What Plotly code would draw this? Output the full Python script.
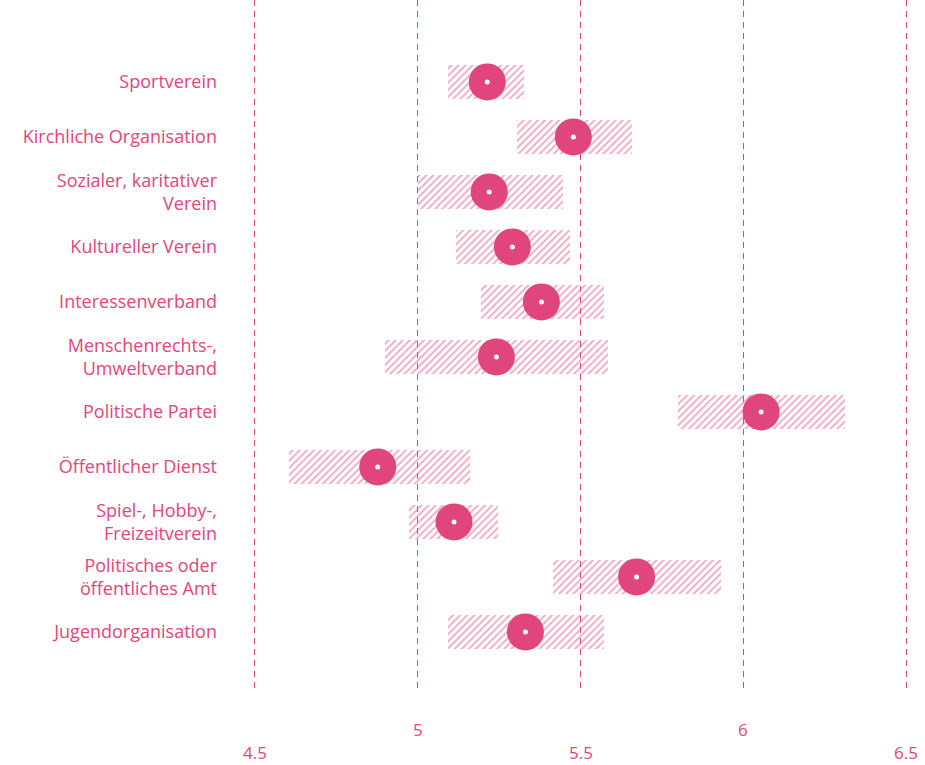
import plotly.graph_objects as go

categories = ["Sportverein", "Kirchliche Organisation", "Sozialer, karitativer<br>Verein",
              "Kultureller Verein", "Interessenverband", "Menschenrechts-,<br>Umweltverband",
              "Politische Partei", "Öffentlicher Dienst", "Spiel-, Hobby-,<br>Freizeitverein",
              "Politisches oder<br>öffentliches Amt", "Jugendorganisation"]
means = [5.214, 5.478, 5.220, 5.291, 5.380, 5.242, 6.054, 4.878, 5.112, 5.672, 5.331]
ci_low = [5.094, 5.306, 5.000, 5.118, 5.195, 4.900, 5.798, 4.605, 4.974, 5.417, 5.094]
ci_high = [5.328, 5.657, 5.447, 5.469, 5.571, 5.583, 6.312, 5.162, 5.248, 5.931, 5.571]
tick_upper = [5, 6]
tick_lower = [4.5, 5.5, 6.5]

PINK = "#e0457b"
TEXT = "#e5457a"
FONT = "Open Sans"

fig = go.Figure()
fig.add_trace(go.Bar(
    y=categories, x=[h - l for l, h in zip(ci_low, ci_high)], base=ci_low,
    orientation="h", width=0.63,
    marker=dict(color="rgba(255,255,255,0)", line=dict(width=0),
                pattern=dict(shape="/", fgcolor="#e4508a", size=5, solidity=0.35,
                             bgcolor="rgba(255,255,255,0)")),
    hoverinfo="skip", showlegend=False))
fig.add_trace(go.Scatter(
    y=categories, x=means, mode="markers",
    marker=dict(size=37, color=PINK, line=dict(width=0)), showlegend=False))
fig.add_trace(go.Scatter(
    y=categories, x=means, mode="markers",
    marker=dict(size=5, color="white", line=dict(width=0)), showlegend=False, hoverinfo="skip"))

for v in tick_upper:
    fig.add_annotation(x=v, y=0, xref="x", yref="paper", yanchor="middle", yshift=-41,
                       text=str(v), showarrow=False, borderpad=0,
                       font=dict(size=17, color=TEXT, family=FONT))
for v in tick_lower:
    fig.add_annotation(x=v, y=0, xref="x", yref="paper", yanchor="middle", yshift=-64,
                       text=str(v), showarrow=False, borderpad=0,
                       font=dict(size=17, color=TEXT, family=FONT))

n = len(categories)
fig.update_layout(
    width=925, height=765,
    margin=dict(l=248, r=12, t=0, b=77),
    paper_bgcolor="white", plot_bgcolor="white",
    font=dict(family=FONT, color=TEXT, size=18),
    bargap=0,
    xaxis=dict(range=[4.48, 6.52], tickvals=tick_lower + tick_upper, showticklabels=False,
               showgrid=True, gridcolor=PINK, griddash="6px,5px", gridwidth=1.3,
               zeroline=False, showline=False, ticks=""),
    yaxis=dict(categoryorder="array", categoryarray=categories, automargin=False,
               range=[n - 1 + 1.02, -1.49], showgrid=False, zeroline=False, showline=False,
               ticks="", ticklabelstandoff=30, tickfont=dict(size=18, color=TEXT, family=FONT)),
)
fig.write_html("out.html", post_script="document.body.style.margin='0';",
               config={"displayModeBar": False})
